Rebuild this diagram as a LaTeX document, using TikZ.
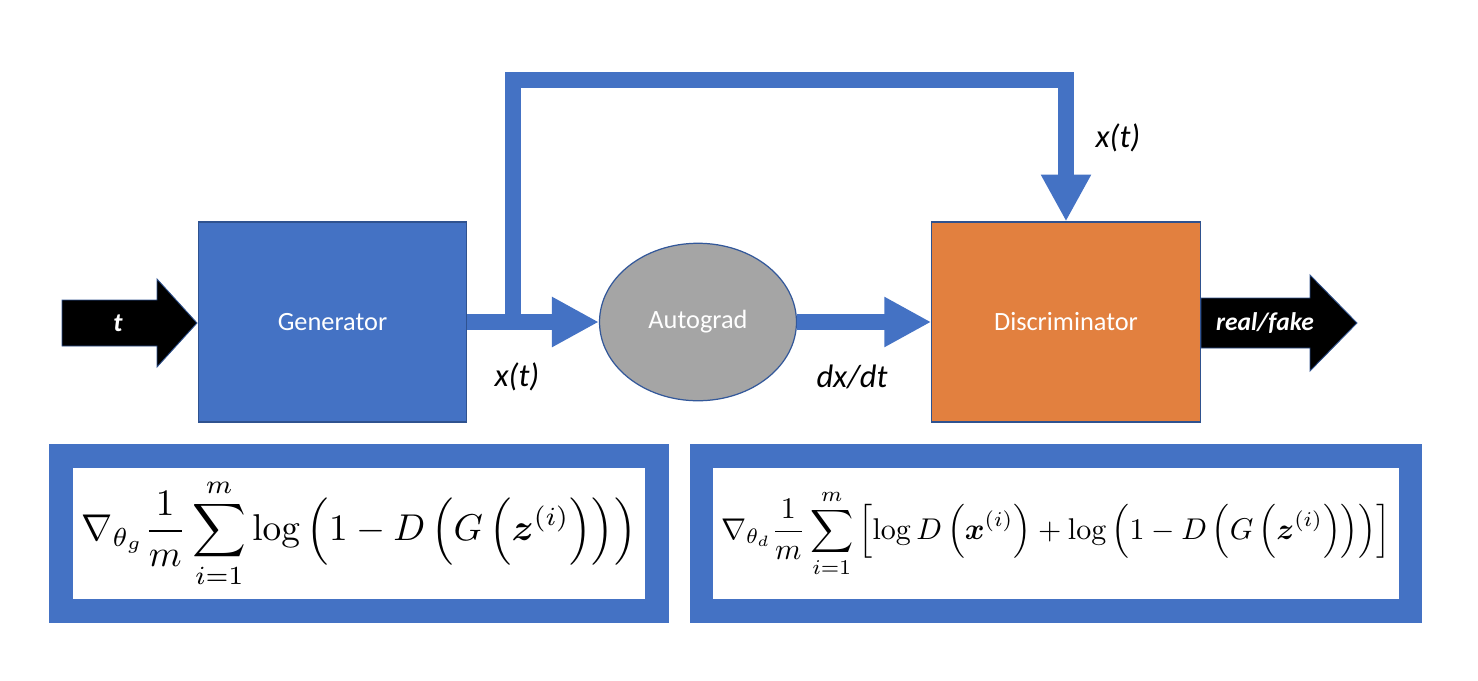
\documentclass[tikz,border=0pt]{standalone}
\usepackage{amsmath}
\usepackage{bm}
\usepackage[no-math]{fontspec}
\newfontfamily\carlito{Carlito}
\usetikzlibrary{arrows.meta,shapes.geometric}
\definecolor{offblue}{HTML}{4472C4}
\definecolor{edgeblue}{HTML}{2F528F}
\definecolor{offorange}{HTML}{E2803F}
\definecolor{offgray}{HTML}{A5A5A5}
\tikzset{
  block/.style={rectangle, draw=edgeblue, line width=0.6pt, minimum width=5.37cm, minimum height=4cm, inner sep=0pt, text=white, font=\carlito\fontsize{15}{18}\selectfont},
  conn/.style={offblue, line width=9pt, -{Triangle[length=0.94cm,width=0.94cm]}},
  lbl/.style={font=\carlito\itshape\fontsize{18.5}{22}\selectfont, text=black, inner sep=0pt},
  wlbl/.style={font=\carlito\itshape\fontsize{15}{18}\selectfont, text=white, inner sep=0pt},
  blkarrow/.style={fill=black, draw=edgeblue, line width=0.5pt, line join=miter},
  formbox/.style={rectangle, draw=offblue, fill=white, line width=0.47cm, inner sep=0pt, minimum height=3.1cm}
}
\begin{document}
\begin{tikzpicture}[x=0.02cm,y=-0.02cm]
\useasboundingbox (0,0) rectangle (1478,680);

% blocks
\node[block, fill=offblue] (gen) at (332.5,322) {Generator};
\node[block, fill=offorange] (disc) at (1066,322) {Discriminator};
\node[ellipse, draw=edgeblue!80!offblue, line width=0.7pt, fill=offgray, minimum width=3.94cm, minimum height=3.15cm, inner sep=0pt, text=white, font=\carlito\fontsize{15}{18}\selectfont] (auto) at (698,322) {Autograd};

% input arrow t
\draw[blkarrow] (62,300) -- (157,300) -- (157,279) -- (197,323) -- (157,367) -- (157,346) -- (62,346) -- cycle;
\node[wlbl, font=\carlito\bfseries\itshape\fontsize{15}{18}\selectfont] (tin) at (118,323) {t};

% output arrow real/fake
\draw[blkarrow] (1201,298) -- (1310,298) -- (1310,275) -- (1357,323) -- (1310,371) -- (1310,348) -- (1201,348) -- cycle;
\node[wlbl, font=\carlito\bfseries\itshape\fontsize{14.5}{18}\selectfont] (rf) at (1265,323) {real/fake};

% connectors
\coordinate (junc) at (513,322);
\coordinate (c1) at (513,80);
\coordinate (c2) at (1066,80);
\draw[conn, line join=miter] (junc) -- (c1) -- (c2) -- (disc.north);
\draw[conn] (gen.east) -- (auto.west);
\draw[conn] (auto.east) -- (disc.west);

% labels
\node[lbl] (lx1) at (517,377) {x(t)};
\node[lbl] (ldx) at (852,377) {dx/dt};
\node[lbl] (lx2) at (1118,138) {x(t)};

% formula boxes
\node[formbox, minimum width=11.93cm] (fg) at (359,533.5) {\resizebox{11.1cm}{!}{$\displaystyle \nabla_{\theta_g}\frac{1}{m}\sum_{i=1}^{m}\log\left(1-D\left(G\left(\bm{z}^{(i)}\right)\right)\right)$}};
\node[formbox, minimum width=14.18cm] (fd) at (1056,533.5) {\resizebox{13.4cm}{!}{$\displaystyle \nabla_{\theta_d}\frac{1}{m}\sum_{i=1}^{m}\left[\log D\left(\bm{x}^{(i)}\right)+\log\left(1-D\left(G\left(\bm{z}^{(i)}\right)\right)\right)\right]$}};
\end{tikzpicture}
\end{document}
